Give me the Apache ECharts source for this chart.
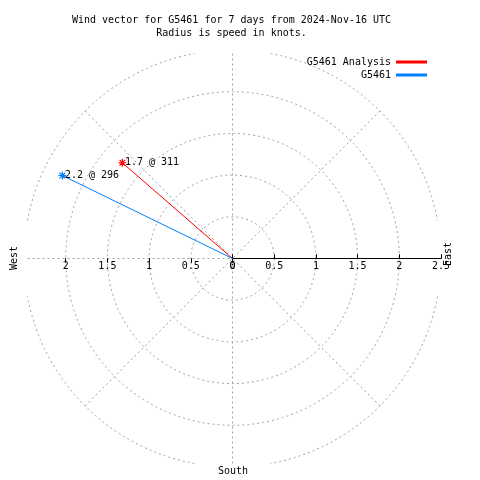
<!DOCTYPE html>
<html><head><meta charset="utf-8">
<script src="https://cdn.jsdelivr.net/npm/echarts@6/dist/echarts.min.js"></script>
<style>html,body{margin:0;padding:0;background:#fff}#c{width:480px;height:480px}</style>
</head><body><div id="c"></div>
<script>
// ---- data ----
const seriesNames = ['G5461 Analysis', 'G5461'];
const speeds = [1.75, 2.27];        // knots (radius)
const directions = [311, 296];      // compass bearing, degrees
const radiusMin = 0, radiusMax = 2.5, radiusStep = 0.5;
const westMax = 2;                  // west side ticks/labels stop at 2
const spokeStep = 45;
const titleLines = ['Wind vector for G5461 for 7 days from 2024-Nov-16 UTC', 'Radius is speed in knots.'];
const compassLabels = ['West', 'East', 'South'];

// ---- style / layout ----
const FONT = 'DejaVu Sans Mono';
const seriesColors = ['#ff0000', '#0080ff'];
const GRID = '#a0a0a0', NONE = 'rgba(0,0,0,0)';
const DASH = [2, 3];
const CENTER = [232.5, 258.5], RADIUS = 208.5, CLIP = 205; // plot square half-size
const WEST_RADIUS = RADIUS * (westMax - radiusMin) / (radiusMax - radiusMin);
const ASTER = 'path://M5,0L5,10M0,5L10,5M1.5,1.5L8.5,8.5M1.5,8.5L8.5,1.5';

const nTicks = Math.round((radiusMax - radiusMin) / radiusStep) + 1;
const circleColors = Array.from({ length: nTicks }, (_, k) => (k === nTicks - 1 ? NONE : GRID));

const hiddenAngle = (idx, extra) => Object.assign({
  polarIndex: idx, type: 'value', min: 90, max: 450, interval: spokeStep, startAngle: 0, clockwise: true,
  axisLine: { show: false }, axisTick: { show: false }, axisLabel: { show: false }, splitLine: { show: false }
}, extra || {});
const baseRadius = (idx, extra) => Object.assign({
  polarIndex: idx, type: 'value', min: radiusMin, max: radiusMax, interval: radiusStep,
  axisLine: { show: false }, axisTick: { show: false }, axisLabel: { show: false }, splitLine: { show: false }
}, extra || {});
const tick = inside => ({ show: true, inside, length: 4, lineStyle: { color: '#000', width: 1 } });
const label = (margin, fmt) => ({ show: true, color: '#000', fontFamily: FONT, fontSize: 10, margin, formatter: fmt });

const chart = echarts.init(document.getElementById('c'), null, { renderer: 'canvas' });

// outer ring clipped by the plot square
const cut = Math.acos(CLIP / RADIUS);
const ringArcs = [0, 1, 2, 3].map(q => ({
  type: 'arc', silent: true, z: 1,
  shape: { cx: CENTER[0], cy: CENTER[1], r: RADIUS, startAngle: q * Math.PI / 2 + cut, endAngle: (q + 1) * Math.PI / 2 - cut, clockwise: true },
  style: { stroke: GRID, fill: null, lineWidth: 1, lineDash: DASH }
}));

const txt = (x, y, text, rot) => ({
  type: 'text', x, y, rotation: rot || 0, silent: true,
  style: { text, font: '10px "' + FONT + '"', fill: '#000', align: 'center', verticalAlign: 'middle' }
});

const option = {
  animation: false,
  backgroundColor: '#fff',
  textStyle: { fontFamily: FONT },
  polar: [
    { center: CENTER, radius: RADIUS },       // 0 east axis, circles, diagonal spokes
    { center: CENTER, radius: WEST_RADIUS },  // 1 west ticks + labels
    { center: CENTER, radius: CLIP },         // 2 compass spokes (clipped length)
    { center: CENTER, radius: RADIUS },       // 3 east ticks other side
    { center: CENTER, radius: WEST_RADIUS }   // 4 west ticks other side
  ],
  angleAxis: [
    hiddenAngle(0, { splitLine: { show: true, lineStyle: { color: [NONE, GRID], width: 1, type: DASH } } }),
    hiddenAngle(1, { min: 0, max: 360, startAngle: 180 }),
    hiddenAngle(2, { splitLine: { show: true, lineStyle: { color: [GRID, NONE], width: 1, type: DASH } } }),
    hiddenAngle(3),
    hiddenAngle(4, { min: 0, max: 360, startAngle: 180 })
  ],
  radiusAxis: [
    baseRadius(0, {
      axisLine: { show: true, lineStyle: { color: '#000', width: 1 } },
      axisTick: tick(true), axisLabel: label(-13),
      splitLine: { show: true, lineStyle: { color: circleColors, width: 1, type: DASH } }
    }),
    baseRadius(1, { max: westMax, axisTick: tick(false), axisLabel: label(3) }),
    baseRadius(2),
    baseRadius(3, { axisTick: tick(false) }),
    baseRadius(4, { max: westMax, axisTick: tick(true) })
  ],
  legend: seriesNames.map((name, i) => ({
    data: [name], right: 53, top: 57 + i * 13, orient: 'vertical', align: 'right',
    padding: 0, itemWidth: 29, itemHeight: 1, icon: 'rect', itemGap: 0,
    textStyle: { fontFamily: FONT, fontSize: 10, color: '#000', padding: [0, 1, 0, 0] }
  })),
  series: seriesNames.map((name, i) => ({
    type: 'line', name, coordinateSystem: 'polar', polarIndex: 0, z: 5,
    color: seriesColors[i],
    symbol: ASTER, symbolSize: 8, showSymbol: true,
    lineStyle: { color: seriesColors[i], width: 1 },
    itemStyle: { color: NONE, borderColor: seriesColors[i], borderWidth: 1.2 },
    data: [
      { value: [0, directions[i]], symbol: 'none' },
      { value: [speeds[i], directions[i]],
        label: { show: true, position: 'right', distance: -2, color: '#000', fontFamily: FONT, fontSize: 10,
          formatter: () => (Math.floor(speeds[i] * 10) / 10) + ' @ ' + directions[i] } }
    ]
  })),
  graphic: ringArcs.concat([
    txt(231.5, 20, titleLines[0]),
    txt(231.5, 33, titleLines[1]),
    txt(14.5, 258, compassLabels[0], Math.PI / 2),
    txt(448, 254, compassLabels[1], Math.PI / 2),
    txt(233, 471, compassLabels[2])
  ])
};
chart.setOption(option);
</script></body></html>
